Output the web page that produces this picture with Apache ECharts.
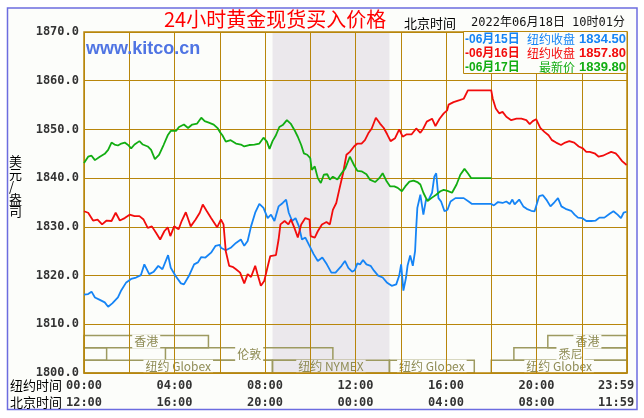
<!DOCTYPE html>
<html>
<head>
<meta charset="utf-8">
<script src="https://cdn.jsdelivr.net/npm/echarts/dist/echarts.min.js"></script>
<style>
html,body{margin:0;padding:0;background:#fff;}
#c{width:644px;height:418px;}
</style>
</head>
<body>
<div id="c"></div>
<script>
// ---- data (NY time in minutes since 00:00, price USD/oz) ----
const blueT = [0,11,20,29,42,55,64,75,90,99,112,125,138,151,160,173,185,197,208,223,230,243,257,265,278,292,302,311,322,337,349,360,363,376,389,403,416,425,434,443,454,465,476,487,496,505,516,527,536,543,552,561,570,578,587,596,609,620,632,644,656,667,683,692,701,711,718,725,732,740,749,760,769,780,792,803,816,828,836,841,847,854,858,865,872,878,881,884,892,900,907,914,923,929,934,940,947,956,964,972,985,996,1007,1020,1029,1080,1087,1098,1110,1120,1129,1136,1142,1154,1165,1174,1186,1195,1207,1217,1226,1237,1248,1257,1266,1277,1292,1301,1310,1321,1332,1345,1357,1367,1380,1394,1404,1415,1424,1431,1439];
const blueV = [1816.1,1816.2,1816.7,1815.5,1815.0,1814.5,1813.6,1814.3,1815.5,1817.0,1818.6,1819.3,1819.6,1820.1,1822.3,1820.3,1820.8,1822.0,1821.3,1824.2,1821.6,1819.9,1818.4,1818.2,1819.9,1822.3,1822.7,1823.8,1823.7,1824.7,1826.1,1826.3,1825.7,1825.2,1825.7,1826.7,1827.4,1826.1,1827.1,1830.1,1832.9,1834.7,1833.9,1831.8,1832.5,1831.2,1834.2,1834.9,1835.6,1832.9,1831.2,1831.8,1830.1,1827.4,1827.8,1826.4,1824.4,1823.0,1823.7,1822.3,1820.6,1820.6,1822.0,1823.0,1821.6,1820.8,1821.1,1822.5,1822.3,1823.2,1822.3,1822.0,1821.0,1820.0,1819.6,1818.6,1817.9,1818.2,1820.0,1822.3,1816.9,1819.6,1822.0,1824.1,1822.0,1825.0,1829.8,1833.9,1836.6,1832.5,1835.6,1835.6,1837.0,1840.3,1841.0,1835.9,1835.2,1833.2,1833.5,1835.2,1835.9,1835.9,1835.9,1835.2,1834.7,1834.7,1834.4,1835.1,1834.9,1835.2,1834.7,1835.6,1834.6,1835.6,1834.2,1833.7,1833.3,1833.2,1836.3,1836.5,1835.6,1834.2,1835.1,1835.9,1834.2,1833.7,1833.3,1832.5,1831.9,1831.8,1831.2,1831.2,1831.3,1831.9,1831.9,1832.7,1833.2,1832.5,1831.8,1832.9,1833.1];

const redT = [0,11,24,36,48,60,73,84,95,108,121,134,147,158,169,180,191,202,213,222,229,239,251,259,270,283,296,307,315,325,337,353,363,370,376,385,394,403,414,425,434,443,454,460,469,478,487,494,509,516,521,532,542,549,558,567,576,587,598,601,612,620,631,643,652,660,669,678,687,696,705,716,725,736,745,754,763,774,785,795,804,813,825,836,845,856,869,881,892,900,909,923,932,943,954,963,967,980,996,1007,1018,1080,1084,1092,1101,1110,1120,1133,1147,1160,1173,1182,1190,1199,1210,1221,1232,1241,1252,1265,1276,1287,1300,1312,1323,1332,1341,1354,1365,1376,1387,1398,1410,1418,1427,1439];
const redV = [1833.2,1832.9,1831.3,1831.5,1830.5,1831.3,1831.2,1832.9,1831.3,1831.8,1832.5,1832.2,1832.2,1831.5,1829.8,1830.1,1828.8,1827.4,1829.1,1829.9,1828.1,1830.1,1829.5,1831.2,1833.0,1830.1,1831.5,1832.9,1834.6,1833.3,1831.8,1829.9,1831.5,1830.5,1825.0,1822.0,1821.8,1821.3,1820.6,1818.4,1820.3,1819.7,1822.0,1820.3,1817.9,1818.9,1821.8,1824.0,1824.2,1827.4,1830.5,1831.2,1830.5,1831.5,1829.8,1827.8,1830.5,1831.8,1831.5,1828.1,1827.8,1829.1,1830.5,1831.0,1830.5,1833.5,1834.9,1838.0,1841.0,1844.8,1845.4,1846.5,1847.1,1847.1,1847.8,1849.2,1850.2,1852.4,1851.2,1850.3,1849.0,1847.6,1848.2,1850.0,1848.5,1849.0,1849.0,1850.2,1849.3,1850.2,1851.6,1852.2,1850.7,1852.2,1853.3,1853.9,1855.1,1855.6,1856.0,1856.3,1858.0,1858.0,1856.3,1854.3,1853.3,1853.6,1852.6,1851.9,1852.2,1852.2,1851.9,1851.1,1851.7,1852.1,1850.3,1849.5,1848.8,1847.8,1847.3,1846.8,1847.3,1847.6,1847.3,1846.5,1846.1,1845.4,1845.4,1845.1,1844.4,1844.6,1845.0,1845.4,1845.1,1844.4,1843.5,1842.7];

const greenT = [0,11,20,29,42,55,64,73,81,90,99,108,117,125,134,147,156,169,178,188,199,211,222,230,244,252,265,276,287,300,311,320,331,344,355,360,367,376,389,403,416,425,438,452,465,476,485,492,500,509,518,527,538,548,558,567,576,583,592,600,604,612,620,628,636,645,652,660,672,683,693,705,716,725,736,749,758,772,783,792,803,812,823,832,843,852,863,874,884,892,900,911,923,934,945,954,964,976,988,998,1009,1018,1027,1080];
const greenV = [1843.1,1844.4,1844.6,1843.7,1844.4,1845.0,1845.8,1847.3,1846.9,1846.7,1847.1,1847.3,1846.8,1846.1,1846.9,1847.6,1846.9,1846.5,1845.8,1843.9,1844.8,1846.8,1848.8,1849.7,1849.7,1850.5,1851.0,1850.3,1851.0,1851.2,1852.4,1851.7,1851.4,1851.0,1850.2,1849.5,1848.8,1847.5,1847.8,1847.1,1846.9,1846.5,1846.8,1846.9,1847.1,1848.3,1847.5,1846.0,1847.6,1848.8,1850.5,1850.9,1851.9,1851.2,1849.9,1848.5,1846.8,1845.1,1844.8,1844.1,1841.7,1842.4,1840.0,1839.0,1840.7,1840.8,1839.7,1840.3,1839.7,1841.0,1842.0,1844.4,1842.7,1841.5,1841.4,1840.8,1839.7,1839.2,1840.0,1841.0,1839.3,1838.3,1838.3,1838.0,1837.3,1838.3,1839.3,1839.5,1839.2,1838.7,1837.0,1835.3,1836.0,1836.6,1837.3,1837.6,1837.4,1837.0,1838.7,1840.7,1841.9,1841.0,1840.0,1840.0];

const nyLabels = ['00:00','04:00','08:00','12:00','16:00','20:00','23:59'];
const bjLabels = ['12:00','16:00','20:00','00:00','04:00','08:00','11:59'];

// trading sessions (NY hours) and row (1 = top)
const sessionNames = ['香港','','伦敦','纽约 Globex','纽约 NYMEX','纽约 Globex','悉尼','香港','纽约 Globex'];
const sessionStart = [0, 0, 3.6, 0, 8.33, 13.5, 19, 20.5, 18];
const sessionEnd   = [5.5, 1, 11, 8.33, 13.5, 17.25, 24, 24, 24];
const sessionRow   = [1, 2, 2, 3, 3, 3, 2, 1, 3];
const rowBounds = {1:[1805.2,1807.7], 2:[1802.6,1805.2], 3:[1800,1802.6]};

const legendDates = ['-06月15日','-06月16日','-06月17日'];
const legendTags = ['纽约收盘','纽约收盘','最新价'];
const legendPrices = ['1834.50','1857.80','1839.80'];

// ---- styling ----
const BLUE = '#1584f5', RED = '#f20c0c', GREEN = '#12ad12';
const GOLD = '#b8860b', OLIVE = '#9d9a60', BG = '#fcfdfa', SHADE = '#ebe8ec';
const MONO = '"DejaVu Sans Mono", "Noto Sans CJK SC"';
const SANS = '"Liberation Sans", "Noto Sans CJK SC"';
const CJK = '"Noto Sans CJK SC"';

const pairs = (t, v) => t.map((x, i) => [x, v[i]]);

const sessionAreas = sessionNames.map((n, i) => {
  const b = rowBounds[sessionRow[i]];
  const isNymex = n.indexOf('NYMEX') >= 0;
  return [
    { name: n, xAxis: sessionStart[i] * 60, yAxis: b[1],
      label: { backgroundColor: isNymex ? SHADE : BG } },
    { xAxis: sessionEnd[i] * 60, yAxis: b[0] }
  ];
});

const legendColors = [BLUE, RED, GREEN];
const legendGraphics = [];
legendGraphics.push({ type: 'rect', z: 10, shape: { x: 463.5, y: 31.5, width: 163.5, height: 42 },
  style: { fill: BG, stroke: GOLD, lineWidth: 1 } });
legendDates.forEach((d, i) => {
  const y = 39.5 + i * 14;
  const c = legendColors[i];
  legendGraphics.push({ type: 'text', z: 11, x: 465, y: y,
    style: { text: d, fill: c, font: 'bold 12px ' + SANS, align: 'left', verticalAlign: 'middle', textAlign: 'left', textVerticalAlign: 'middle' } });
  legendGraphics.push({ type: 'text', z: 11, x: 575, y: y,
    style: { text: legendTags[i], fill: c, font: '12px ' + CJK, align: 'right', verticalAlign: 'middle', textAlign: 'right', textVerticalAlign: 'middle' } });
  legendGraphics.push({ type: 'text', z: 11, x: 626, y: y,
    style: { text: legendPrices[i], fill: c, font: 'bold 13px ' + SANS, align: 'right', verticalAlign: 'middle', textAlign: 'right', textVerticalAlign: 'middle' } });
});

const chart = echarts.init(document.getElementById('c'), null, { renderer: 'canvas' });
chart.setOption({
  animation: false,
  backgroundColor: '#ffffff',
  grid: { left: 84, top: 32, width: 543, height: 341, show: true, z: 1,
    outerBoundsMode: 'none', containLabel: false,
    borderColor: GOLD, borderWidth: 1.5, backgroundColor: 'transparent' },
  xAxis: {
    type: 'value', min: 0, max: 1440, interval: 120, z: 1,
    axisLine: { show: false }, axisTick: { show: false },
    splitLine: { show: true, lineStyle: { color: GOLD, width: 1 } },
    axisLabel: {
      margin: 4, lineHeight: 17, color: '#333', fontFamily: MONO, fontWeight: 'bold', fontSize: 12,
      formatter: v => {
        if (v % 240 !== 0) return '';
        const k = v / 240;
        if (k === 6) return nyLabels[k] + '   \n' + bjLabels[k] + '   ';
        return nyLabels[k] + '\n' + bjLabels[k];
      }
    }
  },
  yAxis: {
    type: 'value', min: 1800, max: 1870, interval: 10, z: 1,
    axisLine: { show: false }, axisTick: { show: false },
    splitLine: { show: true, lineStyle: { color: GOLD, width: 1 } },
    axisLabel: { margin: 5, color: '#333', fontFamily: MONO, fontWeight: 'bold', fontSize: 12,
      formatter: v => v.toFixed(1) }
  },
  graphic: [
    { type: 'rect', z: -10, shape: { x: 7.5, y: 8, width: 629.5, height: 401.5 },
      style: { fill: BG, stroke: '#6c6ce0', lineWidth: 1.5 } },
    { type: 'text', x: 164, y: 19, style: { text: '24小时黄金现货买入价格', fill: '#f00', font: '20px ' + CJK, verticalAlign: 'middle', textVerticalAlign: 'middle' } },
    { type: 'text', x: 404, y: 23, style: { text: '北京时间', fill: '#000', font: '13px ' + CJK, verticalAlign: 'middle', textVerticalAlign: 'middle' } },
    { type: 'text', x: 625, y: 23, style: { text: '2022年06月18日 10时01分', fill: '#111', font: '12px ' + MONO, align: 'right', textAlign: 'right', verticalAlign: 'middle', textVerticalAlign: 'middle' } },
    { type: 'text', x: 86, y: 49, z: 5, style: { text: 'www.kitco.cn', fill: '#4f74e3', font: 'bold 18px "Liberation Sans", Arial', verticalAlign: 'middle', textVerticalAlign: 'middle' } },
    { type: 'text', x: 9, y: 155, style: { text: '美\n元\n/\n盎\n司', fill: '#000', font: '13px ' + CJK, lineHeight: 12.5 } },
    { type: 'text', x: 10, y: 385, style: { text: '纽约时间', fill: '#000', font: '13px ' + CJK, verticalAlign: 'middle', textVerticalAlign: 'middle' } },
    { type: 'text', x: 10, y: 402, style: { text: '北京时间', fill: '#000', font: '13px ' + CJK, verticalAlign: 'middle', textVerticalAlign: 'middle' } }
  ].concat(legendGraphics),
  series: [
    {
      name: '06月15日', type: 'line', showSymbol: false, z: 2,
      data: pairs(blueT, blueV),
      lineStyle: { color: BLUE, width: 1.8 }, itemStyle: { color: BLUE },
      markArea: { silent: true, z: 0, itemStyle: { color: SHADE }, label: { show: false },
        data: [[{ xAxis: 500 }, { xAxis: 810 }]] }
    },
    {
      name: '06月16日', type: 'line', showSymbol: false, z: 2,
      data: pairs(redT, redV),
      lineStyle: { color: RED, width: 1.8 }, itemStyle: { color: RED },
      markArea: {
        silent: true, z: 0.5,
        itemStyle: { color: 'rgba(0,0,0,0)', borderColor: OLIVE, borderWidth: 1.5 },
        label: { show: true, position: 'inside', color: '#8f8c55', fontSize: 12, fontFamily: CJK,
          lineHeight: 14, padding: [0, 2] },
        data: sessionAreas
      }
    },
    {
      name: '06月17日', type: 'line', showSymbol: false, z: 2,
      data: pairs(greenT, greenV),
      lineStyle: { color: GREEN, width: 1.8 }, itemStyle: { color: GREEN }
    }
  ]
});
</script>
</body>
</html>
